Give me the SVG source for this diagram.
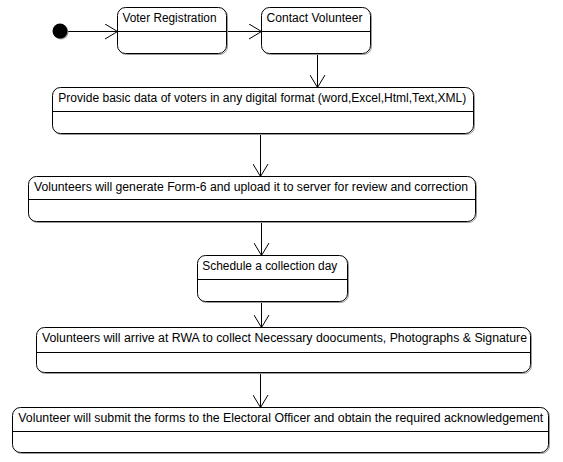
<svg xmlns="http://www.w3.org/2000/svg" width="563" height="462" viewBox="0 0 563 462">
<style>
.box{fill:#fff;stroke:#000;stroke-width:1}
.sh{fill:none;stroke:#9a9a9a;stroke-width:1}
.div{stroke:#000;stroke-width:1}
.t{font-family:"Liberation Sans",Arial,sans-serif;font-size:12px;fill:#000}
.c{stroke:#000;stroke-width:1;fill:none;marker-end:url(#arr)}
</style>
<defs>
<marker id="arr" markerUnits="userSpaceOnUse" viewBox="0 0 14 16" refX="13" refY="8" markerWidth="14" markerHeight="16" orient="auto">
<path d="M0.5,0.5 L13,8 L0.5,15.5" fill="none" stroke="#000" stroke-width="1"/>
</marker>
</defs>
<rect width="563" height="462" fill="#fff"/>
<g id="connectors">
<line class="c" x1="67.5" y1="31.5" x2="117.5" y2="31.5"/>
<line class="c" x1="226.5" y1="31.5" x2="261.5" y2="31.5"/>
<line class="c" x1="317.5" y1="53.5" x2="317.5" y2="87.5"/>
<line class="c" x1="260.5" y1="133.5" x2="260.5" y2="176.5"/>
<line class="c" x1="261.5" y1="221.5" x2="261.5" y2="255.5"/>
<line class="c" x1="261.5" y1="302.5" x2="261.5" y2="327.5"/>
<line class="c" x1="260.5" y1="373.5" x2="260.5" y2="407.5"/>
</g>
<g id="initial">
<circle cx="61" cy="32" r="7.5" fill="#9a9a9a"/>
<circle cx="60" cy="31" r="7.5" fill="#000"/>
</g>
<g id="voter-registration">
<rect class="sh" x="118.5" y="8.5" width="109" height="46" rx="8"/>
<rect class="box" x="117.5" y="7.5" width="109" height="46" rx="8"/>
<line class="div" x1="117.5" y1="31.5" x2="226.5" y2="31.5"/>
<text class="t" x="122.5" y="22" textLength="94" lengthAdjust="spacingAndGlyphs">Voter Registration</text>
</g>
<g id="contact-volunteer">
<rect class="sh" x="262.5" y="8.5" width="109" height="46" rx="8"/>
<rect class="box" x="261.5" y="7.5" width="109" height="46" rx="8"/>
<line class="div" x1="261.5" y1="31.5" x2="370.5" y2="31.5"/>
<text class="t" x="266.5" y="22" textLength="96" lengthAdjust="spacingAndGlyphs">Contact Volunteer</text>
</g>
<g id="provide-data">
<rect class="sh" x="53.5" y="88.5" width="421" height="46" rx="8"/>
<rect class="box" x="52.5" y="87.5" width="421" height="46" rx="8"/>
<line class="div" x1="52.5" y1="111.5" x2="473.5" y2="111.5"/>
<text class="t" x="58.3" y="102" textLength="408" lengthAdjust="spacingAndGlyphs">Provide basic data of voters in any digital format (word,Excel,Html,Text,XML)</text>
</g>
<g id="generate-form">
<rect class="sh" x="29.5" y="177.5" width="447" height="45" rx="8"/>
<rect class="box" x="28.5" y="176.5" width="447" height="45" rx="8"/>
<line class="div" x1="28.5" y1="199.5" x2="475.5" y2="199.5"/>
<text class="t" x="34" y="191" textLength="434" lengthAdjust="spacingAndGlyphs">Volunteers will generate Form-6 and upload it to server for review and correction</text>
</g>
<g id="schedule">
<rect class="sh" x="198.5" y="256.5" width="150" height="46" rx="8"/>
<rect class="box" x="197.5" y="255.5" width="150" height="46" rx="8"/>
<line class="div" x1="197.5" y1="279.5" x2="347.5" y2="279.5"/>
<text class="t" x="202.3" y="270" textLength="135" lengthAdjust="spacingAndGlyphs">Schedule a collection day</text>
</g>
<g id="arrive">
<rect class="sh" x="37.5" y="328.5" width="494" height="45" rx="8"/>
<rect class="box" x="36.5" y="327.5" width="494" height="45" rx="8"/>
<line class="div" x1="36.5" y1="352.5" x2="530.5" y2="352.5"/>
<text class="t" x="42" y="342" textLength="485" lengthAdjust="spacingAndGlyphs">Volunteers will arrive at RWA to collect Necessary doocuments, Photographs &amp; Signature</text>
</g>
<g id="submit">
<rect class="sh" x="13.5" y="408.5" width="536" height="45" rx="8"/>
<rect class="box" x="12.5" y="407.5" width="536" height="45" rx="8"/>
<line class="div" x1="12.5" y1="431.5" x2="548.5" y2="431.5"/>
<text class="t" x="18.3" y="422" textLength="525" lengthAdjust="spacingAndGlyphs">Volunteer will submit the forms to the Electoral Officer and obtain the required acknowledgement</text>
</g>
</svg>
